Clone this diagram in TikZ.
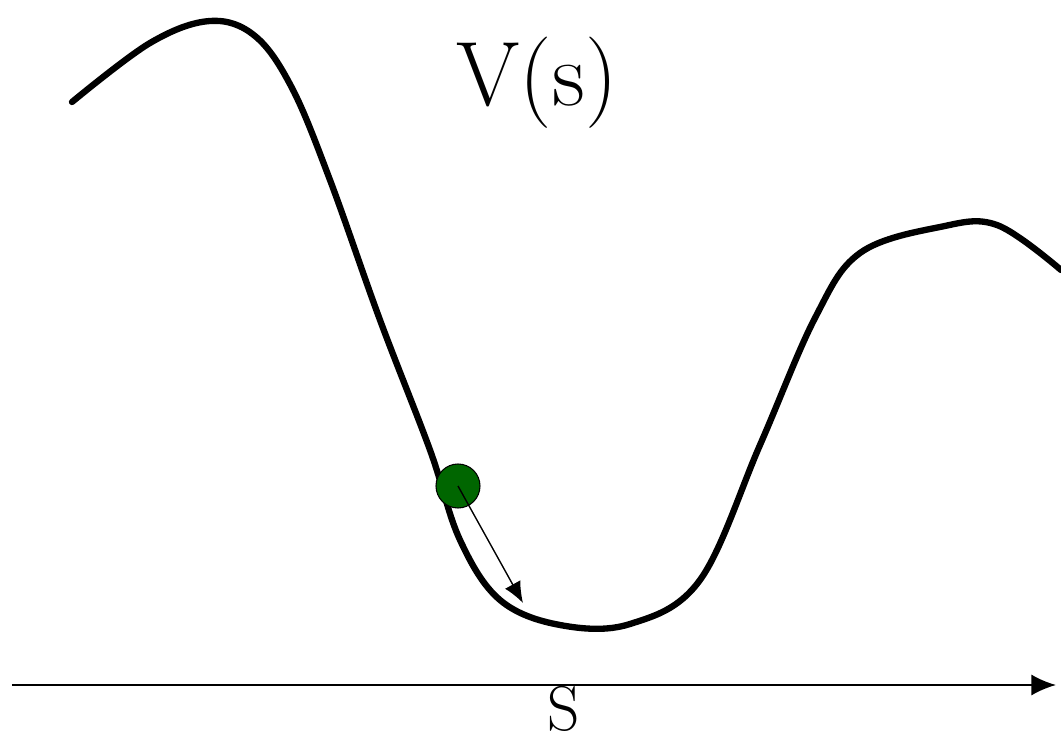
\documentclass[tikz,border=0pt]{standalone}
\usetikzlibrary{arrows.meta}

\begin{document}
\begin{tikzpicture}[
    potential/.style={black, line width=1.8pt, line cap=round, line join=round},
    axis/.style={black, line width=0.6pt, -{Latex[length=7pt, width=6pt]}},
    push/.style={black, line width=0.4pt, -{Latex[length=6pt, width=5pt]}},
    ball/.style={circle, draw=black, line width=0.3pt, fill=green!40!black, minimum size=0.44cm, inner sep=0pt}
]

% Frame of the picture
\useasboundingbox (0,0) rectangle (10.61,7.38);

% Potential curve V(s)
\draw[potential] plot[smooth, tension=0.6] coordinates {
    (0.72,6.36) (1.50,6.95) (2.10,7.17) (2.55,7.02) (2.92,6.50)
    (3.30,5.58) (3.80,4.18) (4.30,2.88) (4.60,1.98) (5.00,1.38)
    (5.60,1.13) (6.30,1.14) (7.00,1.58) (7.60,2.93) (8.15,4.20)
    (8.60,4.85) (9.40,5.11) (9.97,5.13) (10.61,4.68)};

% Horizontal axis
\coordinate (axstart) at (0.12,0.53);
\coordinate (axend) at (10.56,0.53);
\draw[axis] (axstart) -- (axend);

% Particle rolling down
\node[ball] (particle) at (4.58,2.52) {};
\coordinate (slide) at (5.23,1.35);
\draw[push] (particle.center) -- (slide);

% Labels
\node[font=\fontsize{26}{30}\selectfont] (vlabel) at (5.37,6.55) {V(s)};
\node[font=\fontsize{18}{21}\selectfont, anchor=base, inner sep=0pt] (slabel) at (5.64,0.08) {S};

\end{tikzpicture}
\end{document}
